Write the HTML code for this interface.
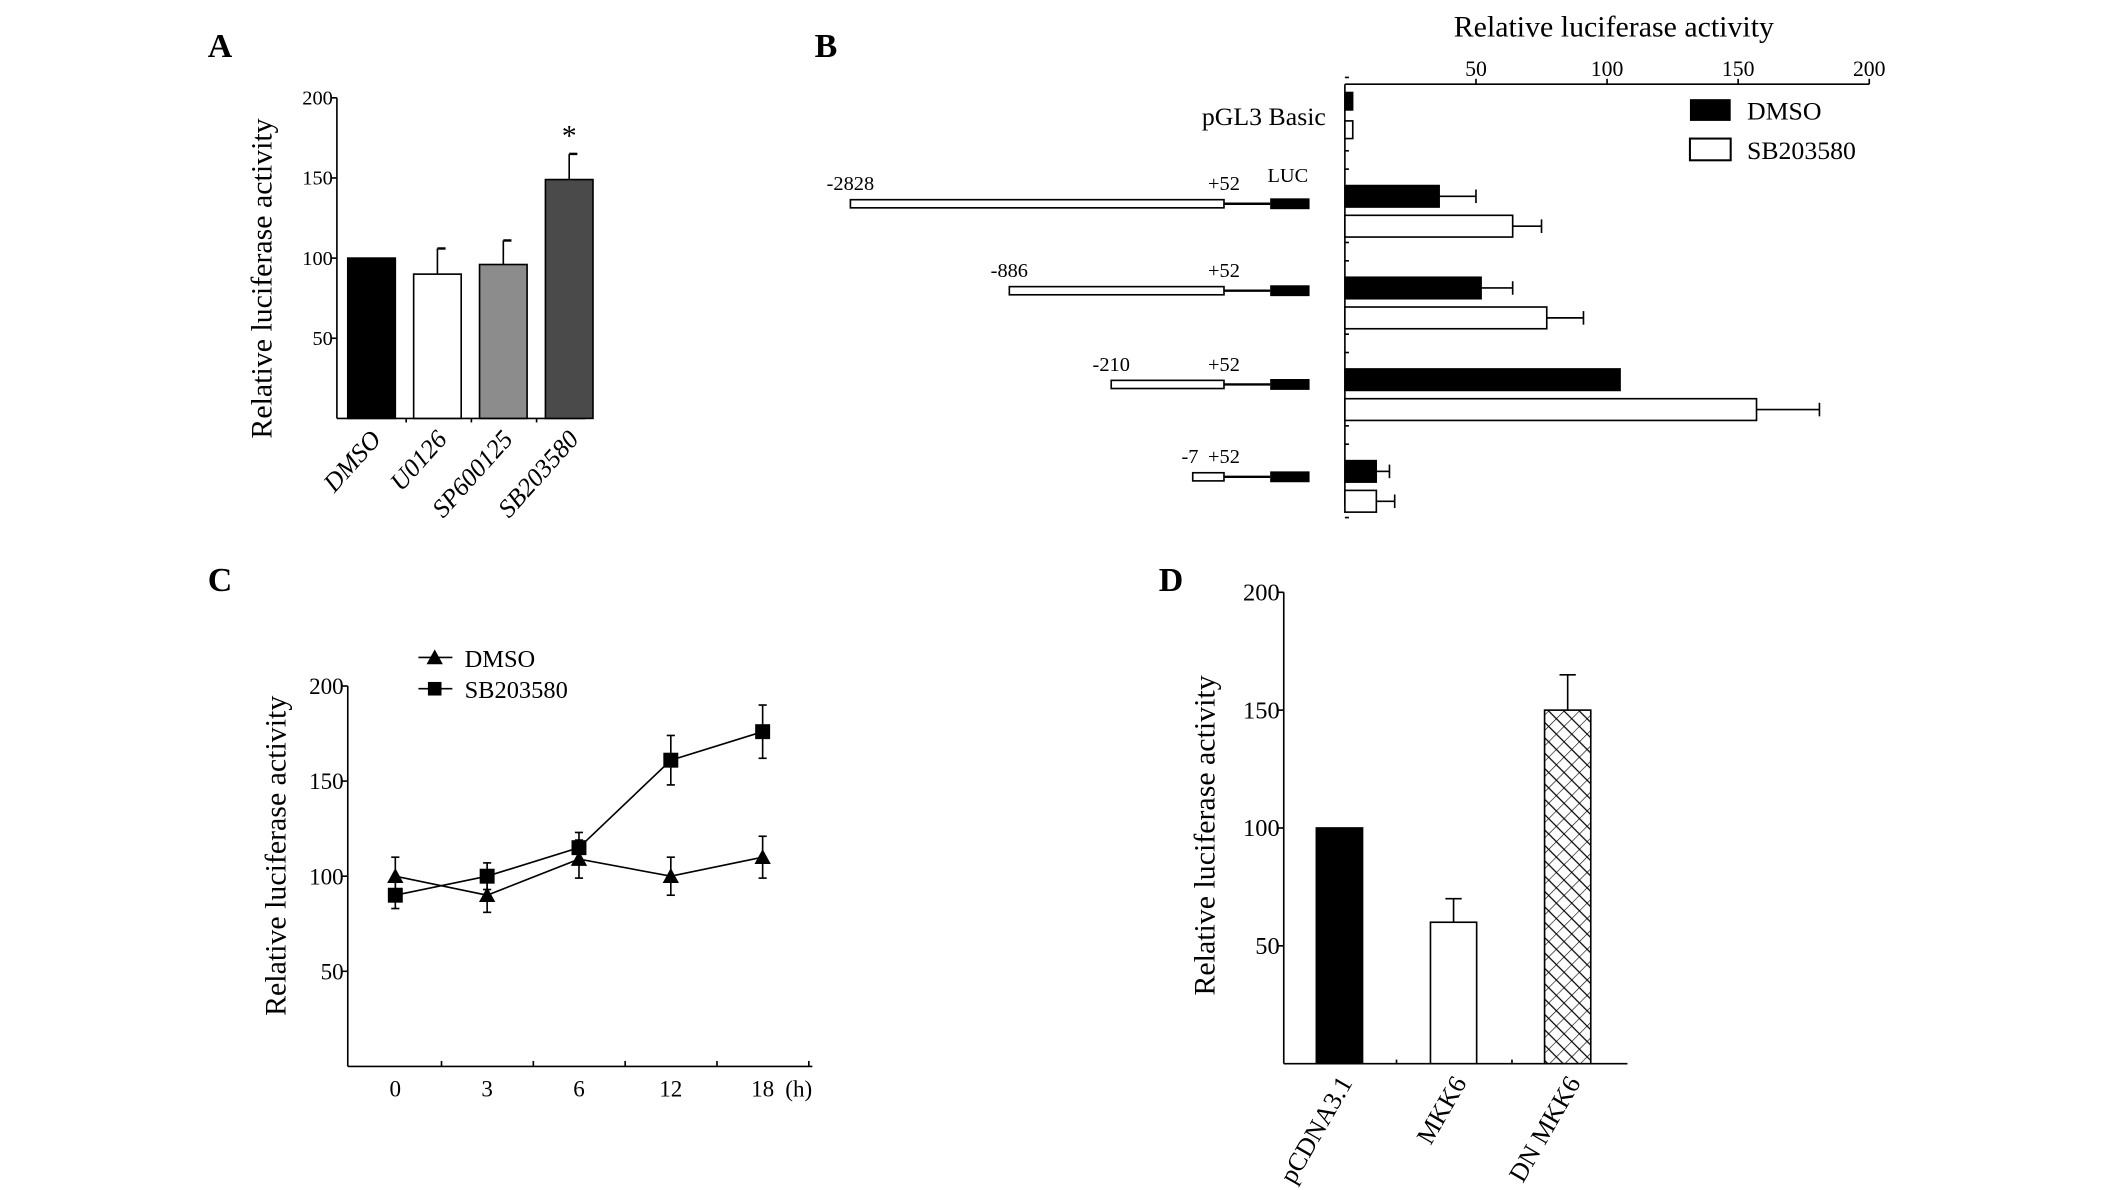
<!DOCTYPE html>
<html><head><meta charset="utf-8"><style>
html,body{margin:0;padding:0;background:#fff}
svg{display:block}
text{font-family:"Liberation Serif",serif;fill:#000}
</style></head><body>
<svg id="fig" width="2126" height="1190" viewBox="0 0 1565 876" preserveAspectRatio="none" xmlns="http://www.w3.org/2000/svg">
<defs>
<pattern id="hatch" width="8" height="8" patternUnits="userSpaceOnUse" patternTransform="rotate(45)">
<rect width="8" height="8" fill="#fff"/><path d="M0 0V8M0 4H8" stroke="#000" stroke-width="0.9"/>
</pattern>
</defs>
<g id="root"></g>
</svg>
<script>
// ---------- Panel A data ----------
const aCats = ["DMSO","U0126","SP600125","SB203580"];
const aVals = [100, 90, 96, 149];
const aErr  = [0, 16, 15, 16];
const aFill = ["#000","#fff","#8c8c8c","#4a4a4a"];
const aTicks = [50,100,150,200];
// ---------- Panel B data ----------
const bGroups = ["pGL3 Basic","-2828","-886","-210","-7"];
const bDmso = [3, 36, 52, 105, 12];
const bDmsoErr = [0, 14, 12, 0, 5];
const bSb = [3, 64, 77, 157, 12];
const bSbErr = [0, 11, 14, 24, 7];
const bStarts = [null, -2828, -886, -210, -7];
const bTicks = [50,100,150,200];
// ---------- Panel C data ----------
const cCats = ["0","3","6","12","18"];
const cDmso = [100, 90, 109, 100, 110];
const cDmsoErr = [10, 9, 10, 10, 11];
const cSb = [90, 100, 115, 161, 176];
const cSbErr = [7, 7, 8, 13, 14];
const cTicks = [50,100,150,200];
// ---------- Panel D data ----------
const dCats = ["pCDNA3.1","MKK6","DN MKK6"];
const dVals = [100, 60, 150];
const dErr = [0, 10, 15];
const dFill = ["#000","#fff","url(#hatch)"];
const dTicks = [50,100,150,200];

const NS="http://www.w3.org/2000/svg";
const root=document.getElementById('root');
function mk(tag,attrs,parent,txt){const e=document.createElementNS(NS,tag);for(const k in attrs)e.setAttribute(k,attrs[k]);if(txt!==undefined)e.textContent=txt;(parent||root).appendChild(e);return e;}
function line(x1,y1,x2,y2,p,w){return mk('line',{x1,y1,x2,y2,stroke:'#000','stroke-width':w||1.2},p);}

[["A",162,42],["B",608,42],["C",162,435],["D",862,435]].forEach(l=>{
 const t=mk('text',{x:l[1],y:l[2],'font-size':25,'font-weight':'bold','text-anchor':'middle'},root,l[0]);
 
 
});

// ===== Panel A =====
(function(){
 const g=mk('g',{});
 
 
 const x0=248,y0=308,ppu=(308-72)/200;
 const y=v=>y0-v*ppu;
 line(x0,y(200),x0,y0,g);line(x0,y0,431,y0,g);
 aTicks.forEach(t=>{line(x0-4,y(t),x0,y(t),g);
  const tt=mk('text',{x:x0-3,y:y(t)+5,'font-size':15,'text-anchor':'end'},g,t);
  });
 [299,347,395].forEach(xx=>line(xx,y0,xx,y0+3,g));
 const yt=mk('text',{x:0,y:0,'font-size':22,'text-anchor':'middle',transform:'translate(200,205) rotate(-90)'},g,'Relative luciferase activity');
 
 aCats.forEach((c,i)=>{
  const cx=273.5+i*48.5,w=35;
  const r=mk('rect',{x:cx-w/2,y:y(aVals[i]),width:w,height:aVals[i]*ppu,fill:aFill[i],stroke:'#000','stroke-width':1.2},g);
  
  if(aErr[i]>0){line(cx,y(aVals[i]),cx,y(aVals[i]+aErr[i]),g);line(cx,y(aVals[i]+aErr[i]),cx+6,y(aVals[i]+aErr[i]),g,1.8);}
  const lt=mk('text',{x:0,y:0,'font-size':19,'font-style':'italic','text-anchor':'end',transform:`translate(${cx+8},${y0+16}) rotate(-48)`},g,c);
  
 });
 const st=mk('text',{x:273.5+3*48.5,y:y(aVals[3]+aErr[3])-6,'font-size':22,'text-anchor':'middle'},g,'*');
 
})();

// ===== Panel B =====
(function(){
 const g=mk('g',{});
 
 
 const x0=990,yTop=62,ppu=(1376-990)/200;
 const x=v=>x0+v*ppu;
 line(x0,yTop,1376,yTop,g);line(x0,yTop,x0,372,g);
 bTicks.forEach(t=>{line(x(t),yTop,x(t),yTop-4,g);
  const tt=mk('text',{x:x(t),y:yTop-6,'font-size':16,'text-anchor':'middle'},g,t);
  });
 const tt=mk('text',{x:1188,y:27,'font-size':22,'text-anchor':'middle'},g,'Relative luciferase activity');
 
 const pitch=67.5;
 const rows=[0,150,214,283,351];
 const starts=[0,626,743,818,878];
 bGroups.forEach((gname,i)=>{
  const top=65+i*pitch;
  const dy=top+(i==0?3:4), sy=top+(i==0?24:26), h=(i==0?13:16);
  line(x0,top-8,x0+3,top-8,g);line(x0,top+46,x0+3,top+46,g);
  const r1=mk('rect',{x:x0,y:dy,width:bDmso[i]*ppu,height:h,fill:'#000',stroke:'#000','stroke-width':1},g);
  
  const r2=mk('rect',{x:x0,y:sy,width:bSb[i]*ppu,height:h,fill:'#fff',stroke:'#000','stroke-width':1.2},g);
  
  if(bDmsoErr[i]>0){const e=x(bDmso[i]+bDmsoErr[i]);line(x(bDmso[i]),dy+h/2,e,dy+h/2,g);line(e,dy+h/2-5,e,dy+h/2+5,g);}
  if(bSbErr[i]>0){const e=x(bSb[i]+bSbErr[i]);line(x(bSb[i]),sy+h/2,e,sy+h/2,g);line(e,sy+h/2-5,e,sy+h/2+5,g);}
  if(i==0){const t=mk('text',{x:976,y:92,'font-size':19,'text-anchor':'end'},g,gname);return;}
  const rowY=rows[i], px=starts[i];
  const pr=mk('rect',{x:px,y:rowY-3,width:901-px,height:6,fill:'#fff',stroke:'#000','stroke-width':1.2},g);
  
  line(901,rowY,935,rowY,g,1.8);
  const lr=mk('rect',{x:935,y:rowY-4,width:29,height:8,fill:'#000'},g);
  
  const ly=rowY-10;
  const st=mk('text',{x:i==4?876:px,y:ly,'font-size':15,'text-anchor':'middle'},g,gname);
  
  const pl=mk('text',{x:901,y:ly,'font-size':15,'text-anchor':'middle'},g,'+52');
  
  if(i==1){const lu=mk('text',{x:948,y:134,'font-size':15,'text-anchor':'middle'},g,'LUC');}
 });
 const l1=mk('rect',{x:1244,y:73,width:30,height:16,fill:'#000'},g);
 const l2=mk('rect',{x:1244,y:102,width:30,height:16,fill:'#fff',stroke:'#000','stroke-width':1.5},g);
 const t1=mk('text',{x:1286,y:88,'font-size':19},g,'DMSO');
 const t2=mk('text',{x:1286,y:117,'font-size':19},g,'SB203580');
})();

// ===== Panel C =====
(function(){
 const g=mk('g',{});
 
 
 const x0=256,y0=785,ppu=(785-505)/200;
 const y=v=>y0-v*ppu;
 const xs=i=>291+i*67.6;
 line(x0,y(200),x0,y0,g);line(x0,y0,598,y0,g);
 cTicks.forEach(t=>{line(x0-4,y(t),x0,y(t),g);
  const tt=mk('text',{x:x0-3,y:y(t)+6,'font-size':17,'text-anchor':'end'},g,t);
  });
 [0,1,2,3,4].forEach(i=>line(xs(i)+34,y0,xs(i)+34,y0-4,g));
 cCats.forEach((c,i)=>{const t=mk('text',{x:xs(i),y:y0+22,'font-size':17,'text-anchor':'middle'},g,c);});
 const h=mk('text',{x:588,y:y0+22,'font-size':17,'text-anchor':'middle'},g,'(h)');
 const yt=mk('text',{x:0,y:0,'font-size':22,'text-anchor':'middle',transform:'translate(210,630) rotate(-90)'},g,'Relative luciferase activity');
 
 function series(vals,errs,name,tri){
  const p=mk('polyline',{points:vals.map((v,i)=>xs(i)+','+y(v)).join(' '),fill:'none',stroke:'#000','stroke-width':1.2},g);
  
  vals.forEach((v,i)=>{const cx=xs(i),cy=y(v);
   line(cx,y(v+errs[i]),cx,y(v-errs[i]),g);line(cx-3,y(v+errs[i]),cx+3,y(v+errs[i]),g);line(cx-3,y(v-errs[i]),cx+3,y(v-errs[i]),g);
   let m;
   if(tri)m=mk('polygon',{points:`${cx},${cy-6} ${cx-6},${cy+5} ${cx+6},${cy+5}`,fill:'#000'},g);
   else m=mk('rect',{x:cx-5.5,y:cy-5.5,width:11,height:11,fill:'#000'},g);
   
  });
 }
 series(cDmso,cDmsoErr,'dmso',true);
 series(cSb,cSbErr,'sb203580',false);
 line(308,484,333,484,g);mk('polygon',{points:'320,478 314,489 326,489',fill:'#000'},g);
 line(308,507,333,507,g);mk('rect',{x:315,y:502,width:10,height:10,fill:'#000'},g);
 const t1=mk('text',{x:342,y:491,'font-size':18},g,'DMSO');
 const t2=mk('text',{x:342,y:514,'font-size':18},g,'SB203580');
})();

// ===== Panel D =====
(function(){
 const g=mk('g',{});
 
 
 const x0=945,y0=783,ppu=(783-436)/200;
 const y=v=>y0-v*ppu;
 line(x0,y(200),x0,y0,g);line(x0,y0,1198,y0,g);
 dTicks.forEach(t=>{line(x0-4,y(t),x0,y(t),g);
  const tt=mk('text',{x:x0-3,y:y(t)+6,'font-size':18,'text-anchor':'end'},g,t);
  });
 [1028,1113].forEach(xx=>line(xx,y0,xx,y0-3,g));
 const yt=mk('text',{x:0,y:0,'font-size':22,'text-anchor':'middle',transform:'translate(894,615) rotate(-90)'},g,'Relative luciferase activity');
 
 dCats.forEach((c,i)=>{
  const cx=986+i*84,w=34;
  const r=mk('rect',{x:cx-w/2,y:y(dVals[i]),width:w,height:dVals[i]*ppu,fill:dFill[i],stroke:'#000','stroke-width':1.2},g);
  
  if(dErr[i]>0){line(cx,y(dVals[i]),cx,y(dVals[i]+dErr[i]),g);line(cx-6,y(dVals[i]+dErr[i]),cx+6,y(dVals[i]+dErr[i]),g);}
  const lt=mk('text',{x:0,y:0,'font-size':19,'text-anchor':'end',transform:`translate(${cx+10},${y0+14}) rotate(-60)`},g,c);
  
 });
})();
</script>
</body></html>
